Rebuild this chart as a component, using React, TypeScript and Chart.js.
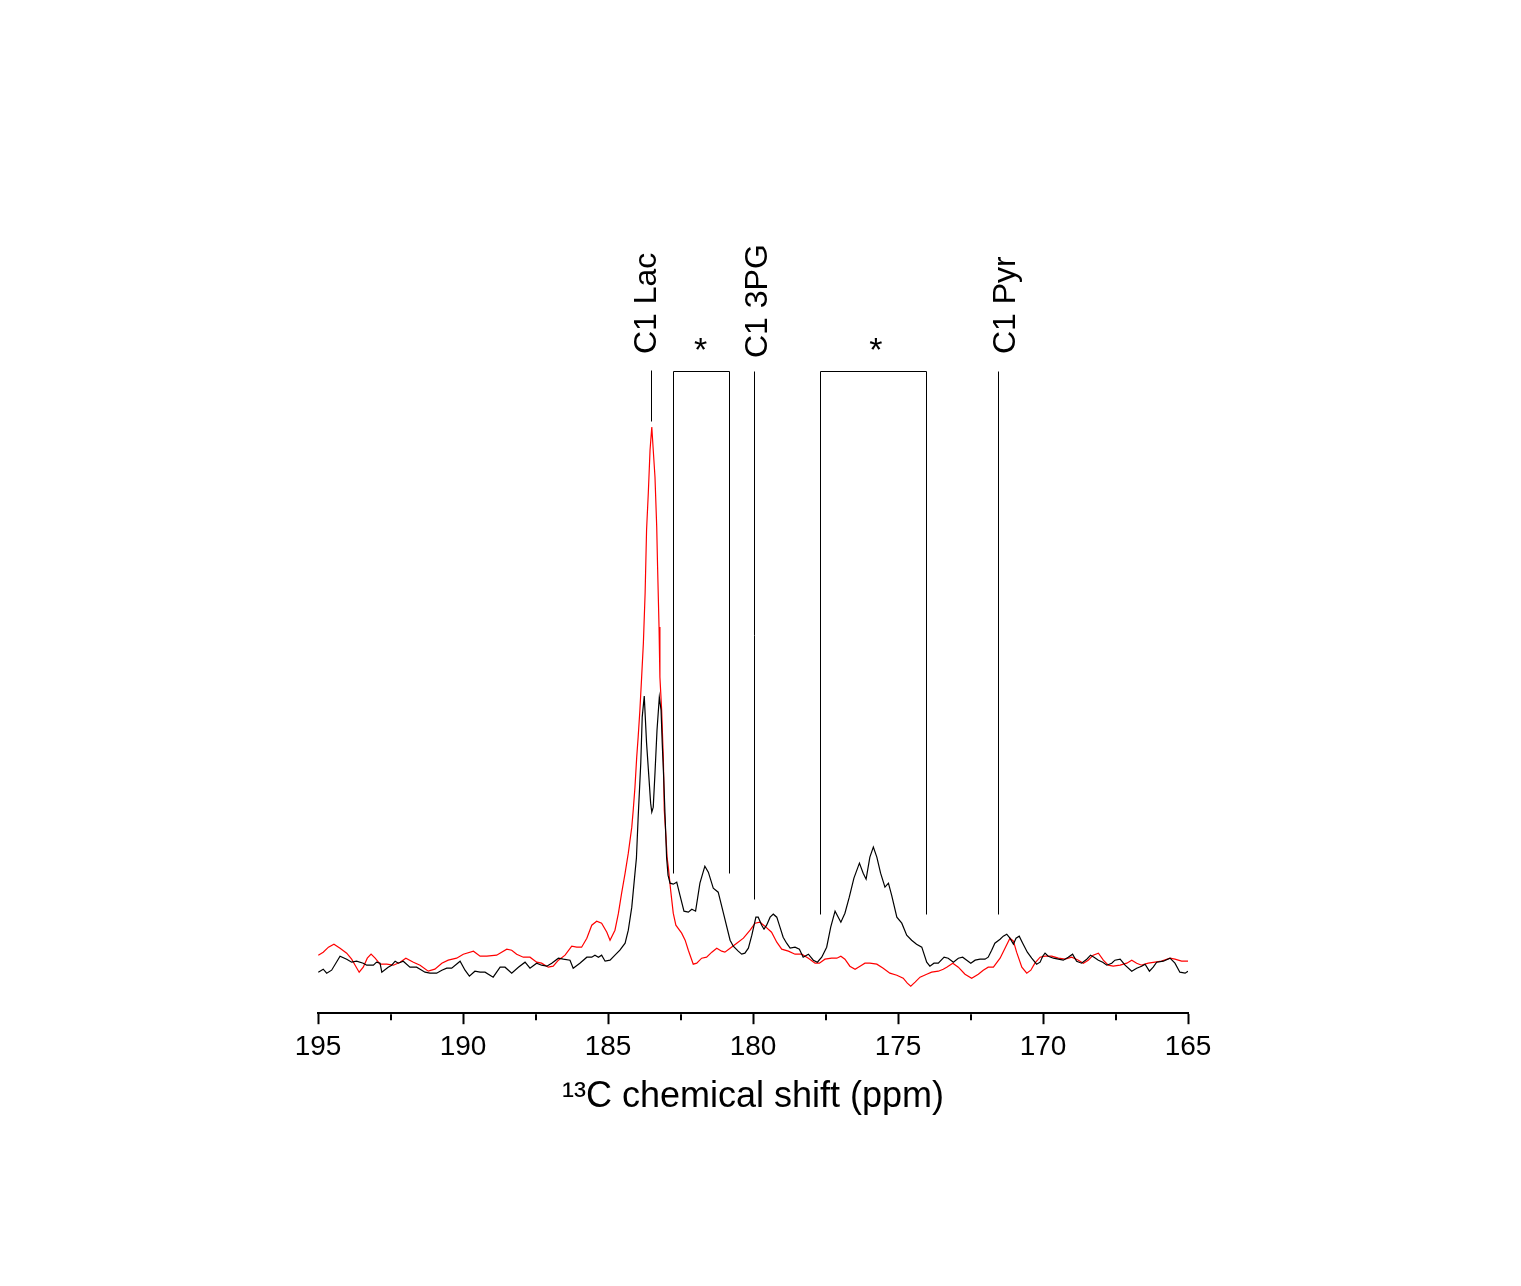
import { useEffect, useRef } from 'react';
import { Chart, registerables } from 'chart.js';

Chart.register(...registerables);

const FONT = '"Liberation Sans", Arial, Helvetica, sans-serif';

// Black spectrum: chemical shift (ppm) and intensity (arbitrary units)
const BLACK_PPM = [
  194.99, 194.82, 194.70, 194.53, 194.24, 194.01, 193.84, 193.67, 193.44, 193.32,
  193.09, 192.98, 192.86, 192.80, 192.58, 192.46, 192.34, 192.23, 192.06, 191.83,
  191.60, 191.48, 191.31, 191.14, 190.91, 190.73, 190.56, 190.39, 190.10, 189.93,
  189.78, 189.59, 189.41, 189.24, 188.96, 188.72, 188.55, 188.32, 188.09, 187.86,
  187.69, 187.46, 187.29, 187.11, 186.94, 186.71, 186.54, 186.31, 186.20, 185.97,
  185.73, 185.56, 185.45, 185.33, 185.22, 185.10, 184.93, 184.76, 184.59, 184.41,
  184.30, 184.18, 184.07, 184.02, 183.96, 183.87, 183.82, 183.75, 183.67, 183.59,
  183.53, 183.49, 183.44, 183.38, 183.31, 183.23, 183.17, 183.13, 183.08, 183.03,
  182.98, 182.93, 182.86, 182.75, 182.63, 182.52, 182.38, 182.23, 182.11, 181.98,
  181.83, 181.66, 181.54, 181.37, 181.20, 181.02, 180.79, 180.68, 180.51, 180.39,
  180.28, 180.16, 180.04, 179.90, 179.82, 179.70, 179.62, 179.53, 179.41, 179.30,
  179.18, 179.07, 178.96, 178.84, 178.72, 178.55, 178.40, 178.27, 178.09, 177.92,
  177.78, 177.63, 177.46, 177.32, 177.17, 177.06, 176.97, 176.83, 176.68, 176.52,
  176.33, 176.20, 176.10, 175.97, 175.85, 175.73, 175.60, 175.45, 175.33, 175.22,
  175.04, 174.87, 174.70, 174.53, 174.36, 174.18, 174.01, 173.90, 173.76, 173.61,
  173.41, 173.27, 173.09, 172.92, 172.77, 172.63, 172.49, 172.34, 172.17, 172.00,
  171.89, 171.77, 171.66, 171.48, 171.37, 171.25, 171.14, 171.02, 170.93, 170.82,
  170.70, 170.54, 170.39, 170.22, 170.10, 170.01, 169.93, 169.82, 169.64, 169.47,
  169.30, 169.13, 168.98, 168.84, 168.67, 168.49, 168.36, 168.24, 168.09, 167.94,
  167.80, 167.63, 167.52, 167.34, 167.17, 166.94, 166.77, 166.60, 166.48, 166.33,
  166.20, 166.08, 165.85, 165.62, 165.45, 165.28, 165.10, 165.00,
];
const BLACK_INT = [
  41, 44, 40, 43, 57, 54, 51, 52, 50, 48,
  48, 51, 50, 41, 46, 48, 52, 50, 52, 46,
  46, 44, 41, 40, 40, 43, 45, 45, 52, 43,
  37, 42, 41, 41, 36, 46, 46, 40, 46, 51,
  45, 50, 48, 47, 50, 55, 54, 53, 45, 50,
  56, 56, 58, 56, 58, 52, 53, 58, 63, 70,
  83, 106, 140, 155, 196, 250, 296, 317, 270, 236,
  210, 201, 206, 240, 283, 316, 303, 270, 236, 196,
  156, 138, 130, 129, 131, 118, 102, 101, 104, 102,
  130, 147, 141, 125, 121, 100, 73, 67, 62, 59,
  60, 65, 78, 96, 96, 88, 84, 88, 96, 99,
  96, 86, 76, 70, 65, 66, 64, 56, 59, 53,
  51, 56, 66, 86, 102, 96, 91, 100, 116, 135,
  150, 140, 134, 156, 166, 156, 140, 126, 130, 118,
  96, 90, 78, 73, 69, 66, 51, 47, 50, 50,
  56, 55, 51, 55, 56, 53, 50, 53, 54, 54,
  56, 63, 70, 74, 77, 79, 75, 69, 75, 77,
  70, 61, 55, 49, 51, 57, 60, 57, 55, 54,
  53, 56, 59, 52, 50, 54, 58, 56, 53, 51,
  48, 50, 53, 54, 48, 42, 45, 47, 49, 42,
  46, 51, 52, 55, 50, 41, 40, 42,
];

// Red spectrum
const RED_PPM = [
  194.99, 194.82, 194.64, 194.45, 194.24, 194.01, 193.84, 193.72, 193.58, 193.44,
  193.30, 193.17, 193.03, 192.86, 192.63, 192.40, 192.17, 191.97, 191.71, 191.48,
  191.20, 190.97, 190.73, 190.51, 190.22, 189.99, 189.64, 189.41, 189.18, 188.84,
  188.49, 188.32, 188.15, 187.92, 187.69, 187.46, 187.29, 187.06, 186.89, 186.71,
  186.48, 186.25, 186.08, 185.91, 185.73, 185.56, 185.39, 185.22, 185.04, 184.93,
  184.76, 184.64, 184.53, 184.41, 184.30, 184.18, 184.13, 184.07, 184.01, 183.96,
  183.90, 183.84, 183.78, 183.72, 183.67, 183.61, 183.55, 183.49, 183.44, 183.38,
  183.32, 183.29, 183.24, 183.21, 183.15, 183.09, 183.06, 183.00, 182.96, 182.92,
  182.84, 182.75, 182.66, 182.46, 182.34, 182.23, 182.06, 181.94, 181.77, 181.60,
  181.42, 181.25, 181.08, 180.97, 180.79, 180.56, 180.33, 180.10, 179.93, 179.76,
  179.59, 179.36, 179.18, 179.01, 178.78, 178.55, 178.32, 178.09, 177.86, 177.71,
  177.52, 177.29, 177.11, 176.97, 176.83, 176.66, 176.48, 176.31, 176.14, 175.97,
  175.73, 175.51, 175.28, 175.04, 174.82, 174.68, 174.56, 174.41, 174.24, 174.01,
  173.84, 173.61, 173.44, 173.32, 173.11, 172.92, 172.69, 172.46, 172.23, 172.06,
  171.89, 171.71, 171.48, 171.31, 171.14, 171.02, 170.91, 170.73, 170.56, 170.42,
  170.28, 170.10, 169.93, 169.70, 169.47, 169.24, 169.01, 168.78, 168.61, 168.44,
  168.27, 168.09, 167.92, 167.75, 167.58, 167.34, 167.11, 166.94, 166.77, 166.60,
  166.37, 166.14, 165.91, 165.62, 165.45, 165.22, 165.00,
];
const RED_INT = [
  58, 61, 66, 69, 65, 60, 54, 48, 41, 46,
  55, 59, 55, 49, 49, 48, 51, 55, 51, 48,
  42, 44, 50, 53, 55, 59, 62, 57, 57, 58,
  64, 63, 59, 56, 56, 51, 50, 46, 47, 53,
  58, 67, 66, 66, 75, 88, 92, 90, 81, 73,
  83, 100, 120, 140, 160, 186, 203, 226, 256, 276,
  303, 336, 370, 420, 483, 520, 563, 586, 563, 536,
  486, 446, 386, 336, 303, 253, 203, 176, 155, 146,
  123, 100, 88, 80, 73, 63, 49, 50, 55, 56,
  61, 65, 62, 61, 65, 70, 75, 83, 90, 91,
  87, 81, 71, 64, 62, 59, 59, 55, 50, 50,
  54, 55, 55, 57, 54, 47, 44, 47, 50, 50,
  49, 45, 40, 38, 35, 30, 27, 31, 36, 39,
  41, 42, 44, 46, 50, 46, 39, 35, 39, 43,
  46, 46, 55, 65, 75, 72, 61, 46, 40, 43,
  50, 56, 57, 57, 55, 54, 56, 53, 50, 53,
  58, 60, 53, 48, 47, 48, 50, 53, 50, 48,
  50, 51, 52, 55, 54, 52, 52,
];

const MINOR_TICKS = [192.5, 187.5, 182.5, 177.5, 172.5, 167.5];

// Peak assignments (ppm of marker line, top/bottom in intensity units)
const MARKER_NAMES = ['C1 Lac', 'C1 3PG', 'C1 Pyr'];
const MARKER_PPM = [183.52, 179.96, 171.56];
const MARKER_TOP = [643, 642, 642];
const MARKER_BOTTOM = [592, 114, 99];
const MARKER_TEXT_PPM = [183.34, 179.52, 170.97];
const MARKER_TEXT_Y = [659, 655, 659];

// Spinning side-band brackets marked with "*"
const BRACKET_FROM = [182.77, 177.68];
const BRACKET_TO = [180.82, 174.03];
const BRACKET_TOP = [642, 642];
const BRACKET_BOTTOM = [140, 99];
const STAR_PPM = [181.81, 175.76];
const STAR_Y = [652, 652];

const annotationPlugin = {
  id: 'nmrAnnotations',
  afterDatasetsDraw(chart: any) {
    const { ctx, scales } = chart;
    const x = scales.x;
    const y = scales.y;
    const px = (v: number) => Math.round(x.getPixelForValue(v)) + 0.5;
    const py = (v: number) => Math.round(y.getPixelForValue(v)) + 0.5;
    ctx.save();
    ctx.strokeStyle = '#000';
    ctx.fillStyle = '#000';
    ctx.lineWidth = 1;
    MARKER_PPM.forEach((p, i) => {
      ctx.beginPath();
      ctx.moveTo(px(p), py(MARKER_TOP[i]));
      ctx.lineTo(px(p), py(MARKER_BOTTOM[i]));
      ctx.stroke();
    });
    BRACKET_FROM.forEach((f, i) => {
      const t = BRACKET_TO[i];
      ctx.beginPath();
      ctx.moveTo(px(f), py(BRACKET_BOTTOM[i]));
      ctx.lineTo(px(f), py(BRACKET_TOP[i]));
      ctx.lineTo(px(t), py(BRACKET_TOP[i]));
      ctx.lineTo(px(t), py(BRACKET_BOTTOM[i]));
      ctx.stroke();
    });
    ctx.font = `32px ${FONT}`;
    MARKER_NAMES.forEach((name, i) => {
      ctx.save();
      ctx.translate(x.getPixelForValue(MARKER_TEXT_PPM[i]), y.getPixelForValue(MARKER_TEXT_Y[i]));
      ctx.rotate(-Math.PI / 2);
      ctx.textAlign = 'left';
      ctx.textBaseline = 'alphabetic';
      ctx.fillText(name, 0, 0);
      ctx.restore();
    });
    ctx.textAlign = 'center';
    ctx.textBaseline = 'alphabetic';
    ctx.font = `34px ${FONT}`;
    STAR_PPM.forEach((p, i) => {
      ctx.fillText('*', x.getPixelForValue(p), y.getPixelForValue(STAR_Y[i]));
    });
    // minor ticks on the x axis
    const yb = chart.chartArea.bottom;
    ctx.lineWidth = 2;
    MINOR_TICKS.forEach((t) => {
      const xx = Math.round(x.getPixelForValue(t));
      ctx.beginPath();
      ctx.moveTo(xx, yb + 1);
      ctx.lineTo(xx, yb + 7);
      ctx.stroke();
    });
    ctx.restore();
  },
};

export default function App() {
  const canvasRef = useRef<HTMLCanvasElement | null>(null);

  useEffect(() => {
    const canvas = canvasRef.current;
    if (!canvas) return;
    const chart = new Chart(canvas, {
      type: 'line',
      data: {
        datasets: [
          {
            label: 'black',
            data: BLACK_PPM.map((p, i) => ({ x: p, y: BLACK_INT[i] })),
            borderColor: '#000000',
            borderWidth: 1.2,
            pointRadius: 0,
            fill: false,
            tension: 0,
          },
          {
            label: 'red',
            data: RED_PPM.map((p, i) => ({ x: p, y: RED_INT[i] })),
            borderColor: '#ff0000',
            borderWidth: 1.2,
            pointRadius: 0,
            fill: false,
            tension: 0,
          },
        ],
      },
      options: {
        responsive: false,
        devicePixelRatio: 1,
        animation: false,
        events: [],
        layout: { padding: { left: 318, right: 333, top: 213, bottom: 167 } },
        plugins: {
          legend: { display: false },
          tooltip: { enabled: false },
          title: { display: false },
        },
        scales: {
          x: {
            type: 'linear',
            min: 165,
            max: 195,
            reverse: true,
            border: { display: true, color: '#000', width: 2 },
            grid: {
              display: true,
              drawOnChartArea: false,
              drawTicks: true,
              tickLength: 11,
              tickWidth: 2,
              tickColor: '#000',
            },
            ticks: {
              stepSize: 5,
              autoSkip: false,
              maxRotation: 0,
              padding: 6,
              color: '#000',
              font: { family: FONT, size: 28 },
            },
            title: {
              display: true,
              text: '¹³C chemical shift (ppm)',
              color: '#000',
              font: { family: FONT, size: 36 },
              padding: { top: 6, bottom: 0 },
            },
          },
          y: {
            type: 'linear',
            display: false,
            min: 0,
            max: 800,
          },
        },
      },
      plugins: [annotationPlugin],
    });
    return () => chart.destroy();
  }, []);

  return (
    <div style={{ position: 'absolute', left: 0, top: 0, width: 1521, height: 1286, background: '#fff' }}>
      <canvas ref={canvasRef} width={1521} height={1286} style={{ display: 'block' }} />
    </div>
  );
}
